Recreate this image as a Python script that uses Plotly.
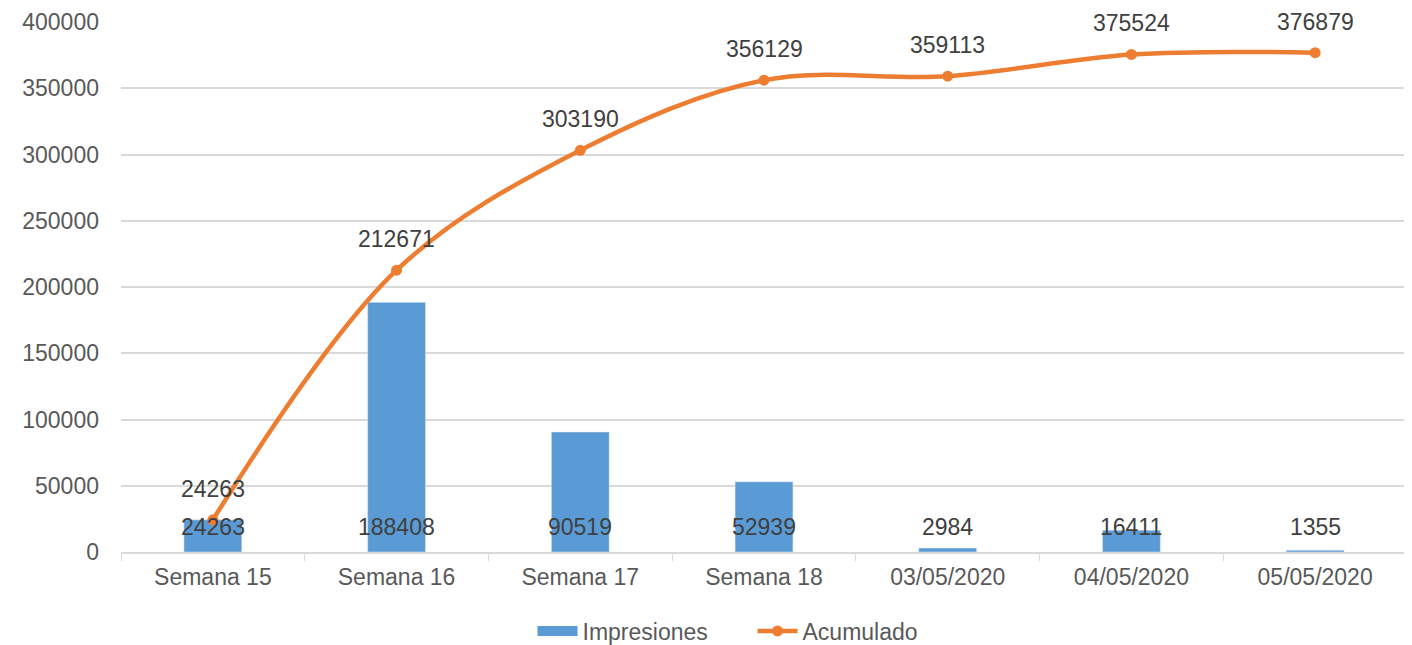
import plotly.graph_objects as go

categorias = ['Semana 15', 'Semana 16', 'Semana 17', 'Semana 18',
              '03/05/2020', '04/05/2020', '05/05/2020']
impresiones = [24263, 188408, 90519, 52939, 2984, 16411, 1355]
acumulado = [24263, 212671, 303190, 356129, 359113, 375524, 376879]

azul = '#5B9BD5'
naranja = '#ED7D31'
fuente = 'Liberation Sans, Arial, sans-serif'
tam = 23

fig = go.Figure()

fig.add_trace(go.Bar(
    x=categorias,
    y=impresiones,
    name='Impresiones',
    marker=dict(color=azul),
    width=0.315,
    showlegend=False
))

# Entrada de leyenda con forma de rectángulo ancho (como en Excel)
fig.add_trace(go.Scatter(
    x=[None],
    y=[None],
    mode='lines',
    name='Impresiones',
    line=dict(color=azul, width=12)
))

fig.add_trace(go.Scatter(
    x=categorias,
    y=acumulado,
    name='Acumulado',
    mode='lines+markers',
    line=dict(color=naranja, width=4.5, shape='spline', smoothing=1.0),
    marker=dict(color=naranja, size=11),
    cliponaxis=False
))

# Etiquetas de datos
anotaciones = []
for cat, v in zip(categorias, impresiones):
    anotaciones.append(dict(
        x=cat, y=0, text=str(v), showarrow=False,
        yshift=25, font=dict(size=tam, color='#404040', family=fuente)
    ))
for cat, v in zip(categorias, acumulado):
    anotaciones.append(dict(
        x=cat, y=v, text=str(v), showarrow=False,
        yshift=31, font=dict(size=tam, color='#404040', family=fuente)
    ))

fig.update_layout(
    width=1404,
    height=637,
    plot_bgcolor='white',
    paper_bgcolor='white',
    font=dict(family=fuente, size=tam, color='#595959'),
    margin=dict(l=113, r=5, t=14, b=93, autoexpand=False),
    annotations=anotaciones,
    xaxis=dict(
        showline=True,
        linecolor='#D9D9D9',
        linewidth=1.5,
        ticks='outside',
        tickson='boundaries',
        ticklen=7,
        tickcolor='#D9D9D9',
        ticklabelstandoff=4,
        tickfont=dict(size=tam, color='#595959'),
        showgrid=False
    ),
    yaxis=dict(
        range=[0, 400000],
        dtick=50000,
        tickformat='d',
        showgrid=True,
        gridcolor='#D9D9D9',
        gridwidth=1.5,
        zeroline=False,
        ticks='',
        ticklabelstandoff=21,
        tickfont=dict(size=tam, color='#595959')
    ),
    legend=dict(
        orientation='h',
        x=0.32,
        xanchor='left',
        y=-0.149,
        yanchor='middle',
        font=dict(size=tam, color='#595959'),
        itemwidth=40,
        entrywidth=165
    )
)

fig.write_html("out.html")
